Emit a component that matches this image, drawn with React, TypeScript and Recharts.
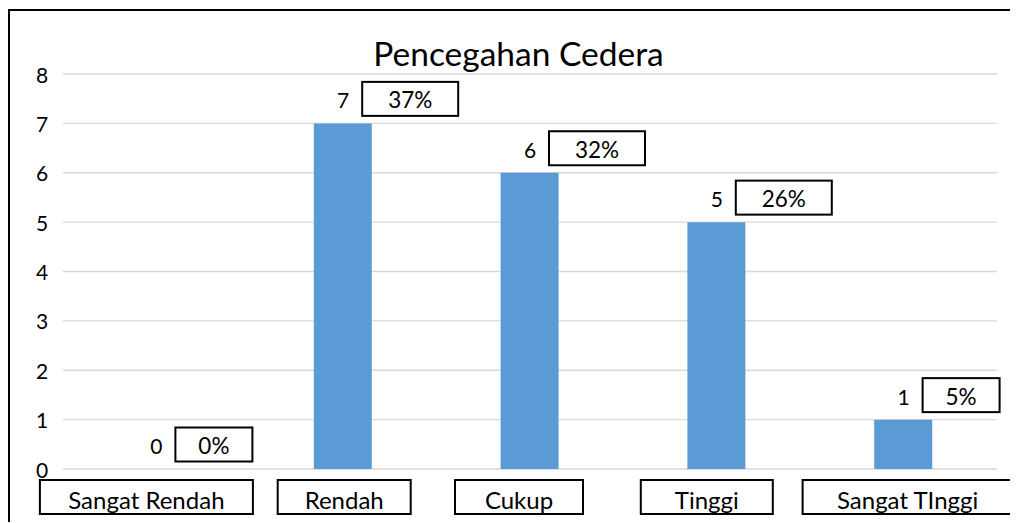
import React from "react";
import { ComposedChart, Bar, Line, XAxis, YAxis, CartesianGrid, LabelList } from "recharts";

const categories = ["Sangat Rendah", "Rendah", "Cukup", "Tinggi", "Sangat TInggi"];
const counts = [0, 7, 6, 5, 1];
const percentLabels = ["0%", "37%", "32%", "26%", "5%"];
const yTicks = [0, 1, 2, 3, 4, 5, 6, 7, 8];
const title = "Pencegahan Cedera";

// annotation box styling (Excel hand-placed text boxes)
const tickBoxWidths = [213, 133, 128, 132, 210];
const tickBoxShift = [-10, 1, -11, -10, 4];

const data = categories.map((c, i) => ({ name: c, value: counts[i], pct: percentLabels[i] }));

const FONT = "Lato, 'Open Sans', sans-serif";

const CategoryTick = (props: any) => {
  const { x, y, payload, index } = props;
  const w = tickBoxWidths[index] ?? 130;
  const cx = x + (tickBoxShift[index] ?? 0);
  const top = y + 11;
  return (
    <g>
      <rect x={cx - w / 2} y={top} width={w} height={34} fill="#fff" stroke="#000" strokeWidth={2} />
      <text x={cx} y={top + 19} textAnchor="middle" dominantBaseline="central" fontSize={24} fontFamily={FONT} fill="#000">
        {payload.value}
      </text>
    </g>
  );
};

const YTick = (props: any) => {
  const { y, payload } = props;
  return (
    <text x={34} y={y} textAnchor="middle" dominantBaseline="central" fontSize={21} fontFamily={FONT} fill="#000">
      {payload.value}
    </text>
  );
};

const PointLabel = (props: any) => {
  const { x, y, value } = props;
  const index = categories.indexOf(value);
  if (index < 0) return null;
  const cx = x;
  const cy = y - 24.5;
  const pct = percentLabels[index];
  const bw = 39 + 19 * pct.length;
  const left = cx + 19;
  return (
    <g>
      <text x={cx} y={cy + 1} textAnchor="middle" dominantBaseline="central" fontSize={21} fontFamily={FONT} fill="#000">
        {counts[index]}
      </text>
      <rect x={left} y={cy - 17} width={bw} height={34} fill="#fff" stroke="#000" strokeWidth={2} />
      <text x={left + bw / 2} y={cy + 1} textAnchor="middle" dominantBaseline="central" fontSize={22.5} fontFamily={FONT} fill="#000">
        {pct}
      </text>
    </g>
  );
};

export default function App() {
  return (
    <div style={{ position: "relative", width: 1010, height: 515, boxSizing: "border-box" }}>
      <div
        style={{
          position: "absolute",
          left: -0.5,
          top: 1,
          width: 1010,
          height: 513,
          borderLeft: "2.5px solid #000",
          borderTop: "2.5px solid #000",
          boxSizing: "border-box",
        }}
      />
      <div style={{ position: "absolute", left: 0, top: 0 }}>
        <ComposedChart width={1010} height={515} data={data} margin={{ top: 66, right: 21, left: 0, bottom: 0 }}>
          <CartesianGrid horizontal vertical={false} stroke="#d9d9d9" strokeWidth={1.3} />
          <XAxis
            dataKey="name"
            height={54}
            axisLine={false}
            tickLine={false}
            tickSize={0}
            tickMargin={0}
            interval={0}
            tick={<CategoryTick />}
          />
          <YAxis
            width={55}
            domain={[0, 8]}
            ticks={yTicks}
            axisLine={false}
            tickLine={false}
            tick={<YTick />}
            interval={0}
          />
          <Bar dataKey="value" fill="#5b9bd5" barSize={58} isAnimationActive={false} />
          <Line
            dataKey="value"
            stroke="none"
            dot={false}
            activeDot={false}
            legendType="none"
            isAnimationActive={false}
          >
            <LabelList dataKey="name" content={<PointLabel />} />
          </Line>
          <text x={510.5} y={45} textAnchor="middle" dominantBaseline="central" fontSize={33.5} fontFamily={FONT} fill="#000">
            {title}
          </text>
        </ComposedChart>
      </div>
    </div>
  );
}
